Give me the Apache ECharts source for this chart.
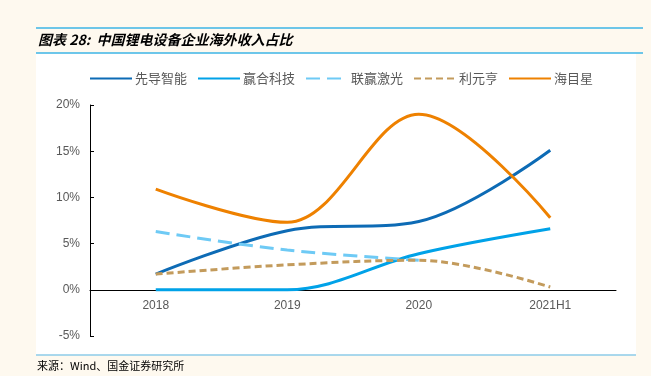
<!DOCTYPE html>
<html lang="zh">

<head>
    <meta charset="UTF-8">
    <title>中国锂电设备企业海外收入占比</title>
    <script src="https://cdn.jsdelivr.net/npm/echarts@6/dist/echarts.min.js"></script>
    <style>
        html, body { margin: 0; padding: 0; background: #fef9ef; }
    </style>
</head>

<body>
    <div id="chart" style="width: 651px; height: 376px;"></div>
    <script>
        // 数据
        const categories = ['2018', '2019', '2020', '2021H1'];
        const xiandao = [1.7, 6.4, 7.4, 15.1];      // 先导智能
        const yinghe = [0, 0, 3.9, 6.6];            // 赢合科技
        const lianying = [6.3, 4.3, 3.2, null];     // 联赢激光
        const liyuanheng = [1.7, 2.7, 3.2, 0.3];    // 利元亨
        const haimuxing = [10.9, 7.3, 19.0, 7.8];   // 海目星
        const yTicks = [-5, 0, 5, 10, 15, 20];

        const chart = echarts.init(document.getElementById('chart'));

        function line(name, data, color, type) {
            return {
                name: name,
                type: 'line',
                data: data,
                smooth: 0.35,
                symbol: 'none',
                connectNulls: false,
                lineStyle: { color: color, width: 3, type: type || 'solid' },
                itemStyle: { color: color }
            };
        }

        chart.setOption({
            backgroundColor: '#fef9ef',
            animation: false,
            graphic: [
                { type: 'rect', shape: { x: 36, y: 53, width: 600, height: 302 }, style: { fill: '#ffffff' }, z: -10 },
                { type: 'line', shape: { x1: 36, y1: 28, x2: 643, y2: 28 }, style: { stroke: '#3cb4e6', lineWidth: 1.5 } },
                { type: 'line', shape: { x1: 36, y1: 53, x2: 643, y2: 53 }, style: { stroke: '#3cb4e6', lineWidth: 1.5 } },
                { type: 'line', shape: { x1: 36, y1: 355, x2: 636, y2: 355 }, style: { stroke: '#8ccbe8', lineWidth: 1.5 } },
                {
                    type: 'text', left: 38, top: 33,
                    style: {
                        text: '图表 28:  中国锂电设备企业海外收入占比',
                        font: 'italic bold 14px "Noto Sans CJK SC", sans-serif',
                        fill: '#000000'
                    }
                },
                {
                    type: 'text', left: 37, top: 360,
                    style: {
                        text: '来源：Wind、国金证券研究所',
                        font: '11px "Noto Sans CJK SC", sans-serif',
                        fill: '#000000'
                    }
                }
            ],
            legend: {
                top: 67,
                left: 84,
                itemWidth: 42,
                itemHeight: 10,
                itemGap: 10,
                itemStyle: { opacity: 0 },
                textStyle: { color: '#595959', fontSize: 13, padding: [0, 0, 0, -2], fontFamily: '"Noto Sans CJK SC", sans-serif' },
                data: ['先导智能', '赢合科技', '联赢激光', '利元亨', '海目星']
            },
            grid: { left: 90, right: 35, top: 105, bottom: 40 },
            xAxis: {
                type: 'category',
                data: categories,
                boundaryGap: true,
                offset: -46.2,
                axisLine: { onZero: false, lineStyle: { color: '#000000', width: 1 } },
                axisTick: { inside: true, length: 4, lineStyle: { color: '#000000' } },
                axisLabel: { color: '#595959', fontSize: 12, margin: 10, fontFamily: 'Arial, "Liberation Sans", sans-serif' }
            },
            yAxis: {
                type: 'value',
                min: yTicks[0],
                max: yTicks[yTicks.length - 1],
                interval: 5,
                axisLine: { show: true, lineStyle: { color: '#000000', width: 1 } },
                axisTick: { show: true, inside: true, length: 4, lineStyle: { color: '#000000' } },
                splitLine: { show: false },
                axisLabel: {
                    color: '#595959', fontSize: 12, margin: 10,
                    fontFamily: 'Arial, "Liberation Sans", sans-serif',
                    formatter: v => v + '%'
                }
            },
            series: [
                line('先导智能', xiandao, '#0d6bb5'),
                line('赢合科技', yinghe, '#00a2e8'),
                line('联赢激光', lianying, '#6ecaf5', [14, 7]),
                line('利元亨', liyuanheng, '#c39b5c', [7, 4]),
                line('海目星', haimuxing, '#ee8100')
            ]
        });
    </script>
</body>

</html>
